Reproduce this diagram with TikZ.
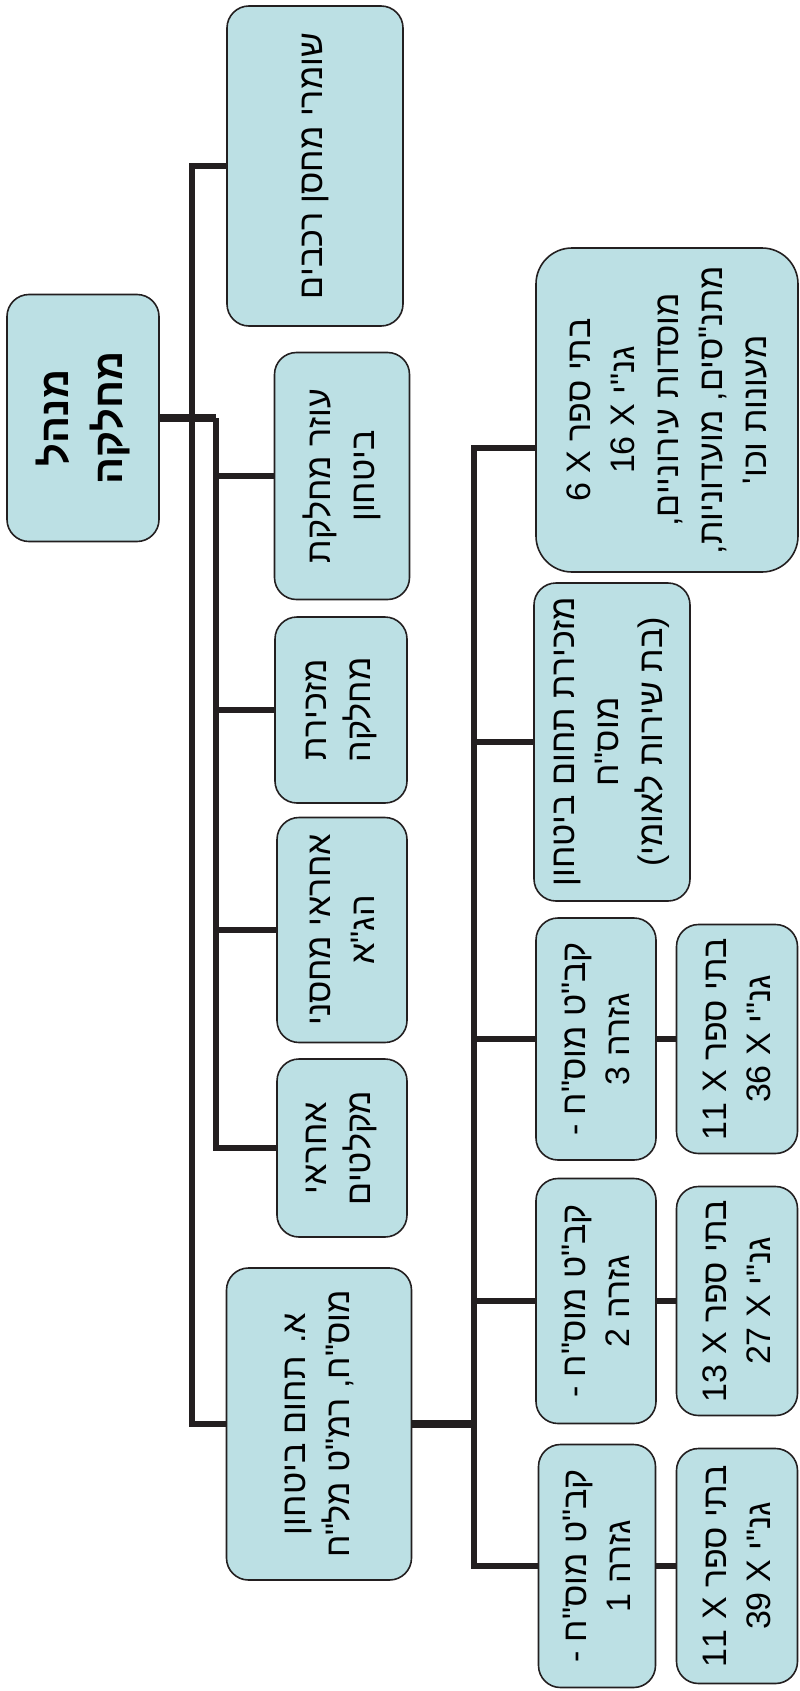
\documentclass[tikz,border=0pt]{standalone}
\usepackage{fontspec}
\newfontfamily\hebfont[Script=Hebrew,Ligatures=TeXOff]{Liberation Sans}
\TeXXeTstate=1
\newcommand{\rl}[1]{\beginR #1\endR}
\definecolor{boxfill}{RGB}{188,224,228}
\definecolor{linecol}{RGB}{35,31,32}
\begin{document}
\begin{tikzpicture}
  [
    x = 1pt, y = -1pt,
    every node/.style = {font = \hebfont\fontsize{34}{44}\selectfont},
    box/.style = {draw = linecol, line width = 1.6pt, fill = boxfill, rounded corners = 22pt, rotate = 90, align = center, inner sep = 0pt},
    link/.style = {draw = linecol, line width = 6pt},
    mainlink/.style = {draw = linecol, line width = 8pt}
  ]
    \useasboundingbox (0,0) rectangle (800,1691);
    \node (a) [box, minimum width = 247pt, minimum height = 152pt, font = \hebfont\bfseries\fontsize{40}{54}\selectfont] at (83,418) {\rl{מנהל}\\\rl{מחלקה}};
    \node (b) [box, minimum width = 320pt, minimum height = 176pt] at (315,166) {\rl{שומרי מחסן רכבים}};
    \node (c) [box, minimum width = 247pt, minimum height = 135pt] at (342,476) {\rl{עוזר מחלקת}\\\rl{ביטחון}};
    \node (d) [box, minimum width = 186pt, minimum height = 132pt] at (341,710) {\rl{מזכירת}\\\rl{מחלקה}};
    \node (e) [box, minimum width = 225pt, minimum height = 130pt] at (342,930) {\rl{אחראי מחסני}\\\rl{הג"א}};
    \node (f) [box, minimum width = 178pt, minimum height = 130pt] at (342,1148) {\rl{אחראי}\\\rl{מקלטים}};
    \node (g) [box, minimum width = 312pt, minimum height = 185pt] at (319,1424) {\rl{א. תחום ביטחון}\\\rl{מוס"ח, רמ"ט מל"ח}};
    \node (h) [box, rounded corners = 36pt, minimum width = 324pt, minimum height = 262pt] at (667,410) {\rl{בתי ספר X 6}\\\rl{גנ"י X 16}\\\rl{מוסדות עירוניים,}\\\rl{מתנ"סים, מועדוניות,}\\\rl{מעונות וכו'}};
    \node (i) [box, minimum width = 318pt, minimum height = 156pt] at (612,742) {\rl{מזכירת תחום ביטחון}\\\rl{מוס"ח}\\\rl{(בת שירות לאומי)}};
    \node (j) [box, minimum width = 242pt, minimum height = 120pt] at (596,1039) {\rl{קב"ט מוס"ח -}\\\rl{גזרה 3}};
    \node (k) [box, minimum width = 245pt, minimum height = 120pt] at (596,1301) {\rl{קב"ט מוס"ח -}\\\rl{גזרה 2}};
    \node (l) [box, minimum width = 243pt, minimum height = 117pt] at (597,1566) {\rl{קב"ט מוס"ח -}\\\rl{גזרה 1}};
    \node (m) [box, minimum width = 229pt, minimum height = 121pt] at (737,1039) {\rl{בתי ספר X 11}\\\rl{גנ"י X 36}};
    \node (n) [box, minimum width = 229pt, minimum height = 121pt] at (737,1301) {\rl{בתי ספר X 13}\\\rl{גנ"י X 27}};
    \node (o) [box, minimum width = 235pt, minimum height = 121pt] at (737,1566) {\rl{בתי ספר X 11}\\\rl{גנ"י X 39}};
    \coordinate (t2) at (216,418);
    \coordinate (t3) at (474,0);
    \draw [mainlink] (a.south) -- (t2);
    \draw [link] (b.north) -- ++(-34,0) |- (g.north);
    \draw [link] (t2) |- (f.north);
    \draw [link] (c.north) -- (c.north -| t2);
    \draw [link] (d.north) -- (d.north -| t2);
    \draw [link] (e.north) -- (e.north -| t2);
    \draw [mainlink] (g.south) -- (g.south -| t3);
    \draw [link] ([yshift = -38pt]h.north) -- ([yshift = -38pt]h.north -| t3) |- (l.north);
    \draw [link] (i.north) -- (i.north -| t3);
    \draw [link] (j.north) -- (j.north -| t3);
    \draw [link] (k.north) -- (k.north -| t3);
    \draw [link] (j.south) -- (m.north);
    \draw [link] (k.south) -- (n.north);
    \draw [link] (l.south) -- (o.north);
\end{tikzpicture}
\end{document}
